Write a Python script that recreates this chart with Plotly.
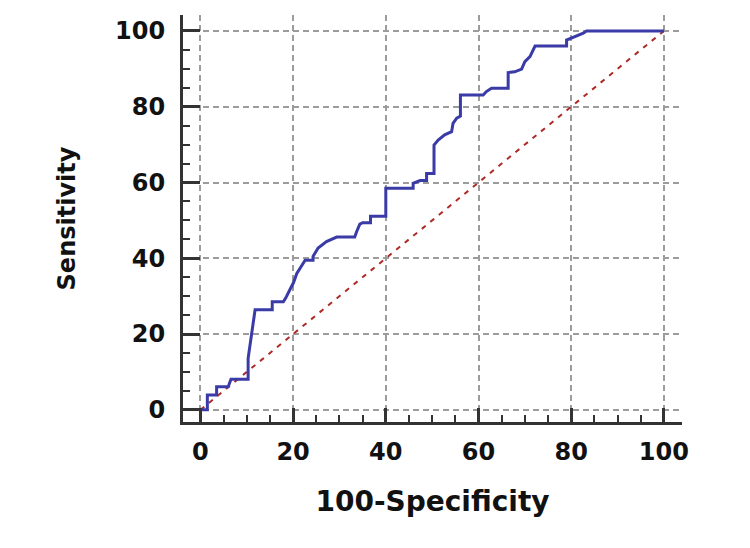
import plotly.graph_objects as go

# ROC curve vertices (100-Specificity, Sensitivity)
roc_fpr = [0, 1.5, 1.5, 3.5, 3.5, 6.0, 6.6, 10.3, 10.3, 10.8, 11.2, 11.8,
           15.5, 15.5, 17.9, 18.4, 19.3, 20.1, 20.8, 22.6, 24.3, 24.3, 25.4,
           27.2, 29.4, 33.3, 33.7, 34.4, 35.0, 36.7, 36.7, 40.0, 40.0, 45.9,
           45.9, 47.4, 48.8, 48.8, 50.4, 50.4, 51.3, 52.7, 54.2, 54.5, 55.3,
           56.1, 56.1, 61.0, 61.7, 62.8, 66.4, 66.4, 67.8, 69.3, 70.0, 71.1,
           72.2, 79.0, 79.0, 80.1, 82.6, 83.3, 100]
roc_sens = [0, 0, 3.9, 3.9, 6.1, 6.1, 8.1, 8.1, 13.6, 17.5, 21.5, 26.4,
            26.4, 28.5, 28.5, 29.5, 31.7, 33.6, 36.0, 39.5, 39.5, 40.5, 42.7,
            44.4, 45.6, 45.6, 47.0, 49.0, 49.4, 49.4, 51.1, 51.1, 58.5, 58.5,
            59.8, 60.5, 60.5, 62.4, 62.4, 69.9, 71.2, 72.6, 73.4, 75.6, 77.0,
            77.5, 83.1, 83.1, 84.0, 84.9, 84.9, 89.0, 89.2, 89.9, 91.9, 93.2,
            96.0, 96.0, 97.6, 98.2, 99.4, 100, 100]

# reference (chance) line
chance_x = [0, 100]
chance_y = [0, 100]

tick_vals = [0, 20, 40, 60, 80, 100]

font_family = "DejaVu Sans"
axis_color = "#333333"
grid_color = "#9c9c9c"

fig = go.Figure()
fig.add_trace(go.Scatter(
    x=chance_x, y=chance_y, mode="lines",
    line=dict(color="#ad2a26", width=2, dash="5px,6px"),
    hoverinfo="skip", showlegend=False
))
fig.add_trace(go.Scatter(
    x=roc_fpr, y=roc_sens, mode="lines",
    line=dict(color="#3b3ba8", width=3),
    showlegend=False
))

common_axis = dict(
    tickvals=tick_vals,
    showline=True, linecolor=axis_color, linewidth=3,
    ticks="inside", tickwidth=2.5, tickcolor=axis_color,
    minor=dict(dtick=5, ticks="inside", ticklen=7, tickwidth=2,
               tickcolor=axis_color, showgrid=False),
    showgrid=True, gridcolor=grid_color, gridwidth=1.5, griddash="6px,4px",
    zeroline=False,
    tickfont=dict(family=font_family, size=24, color="#111111", weight="bold"),
    fixedrange=True,
)

fig.update_xaxes(
    **common_axis,
    range=[-3.75, 103.9],
    ticklen=14,
    ticklabelstandoff=6,
    title=dict(text="100-Specificity", standoff=27,
               font=dict(family=font_family, size=28, color="#111111", weight="bold")),
)
fig.update_yaxes(
    **common_axis,
    range=[-3.2, 104.2],
    ticklen=17,
    ticklabelstandoff=10,
    title=dict(text="Sensitivity", standoff=33,
               font=dict(family=font_family, size=24, color="#111111", weight="bold")),
)

# page body adds an 8px offset, so margins are shifted to compensate
fig.update_layout(
    width=750,
    height=548,
    margin=dict(l=175, r=76, t=7, b=134),
    plot_bgcolor="white",
    paper_bgcolor="white",
)

fig.write_html("out.html")
